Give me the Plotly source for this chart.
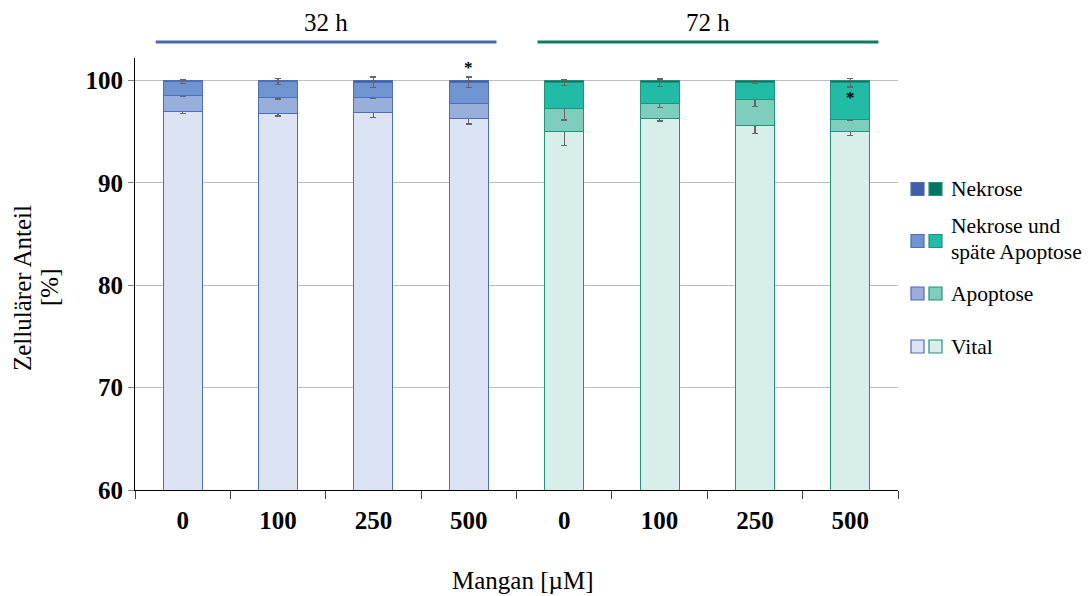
import plotly.graph_objects as go

# ---- data ----
concentrations = ["0", "100", "250", "500", "0", "100", "250", "500"]
groups = ["32 h", "72 h"]
vital = [97.0, 96.8, 96.85, 96.3, 95.0, 96.3, 95.6, 95.0]
apoptose = [1.55, 1.5, 1.45, 1.5, 2.25, 1.45, 2.55, 1.2]
spaet = [1.35, 1.6, 1.55, 2.05, 2.55, 2.05, 1.65, 3.6]
nekrose = [0.1, 0.1, 0.15, 0.15, 0.2, 0.2, 0.2, 0.2]
err_vital = [0.25, 0.26, 0.45, 0.54, 1.38, 0.25, 0.8, 0.4]
err_apoptose = [0.05, 0.1, 0.07, 0.07, 1.1, 0.4, 0.7, 0.05]
err_spaet = [0.2, 0.28, 0.5, 0.5, 0.3, 0.35, 0.1, 0.42]
err_nekrose = [0, 0, 0, 0, 0, 0, 0, 0]
significant = [False, False, False, True, False, False, False, True]
star_y = [None, None, None, 101.3, None, None, None, 98.3]
legend_lines = [["Nekrose"], ["Nekrose und", "späte Apoptose"], ["Apoptose"], ["Vital"]]
y_title_lines = ["Zellulärer Anteil", "[%]"]
x_title = "Mangan [µM]"

# ---- styles ----
blue = {"Vital": "#dce3f3", "Apoptose": "#98afdb", "spaet": "#7094cf", "Nekrose": "#3f5fa8"}
green = {"Vital": "#d7eee9", "Apoptose": "#7fcdbd", "spaet": "#22bba5", "Nekrose": "#007560"}
edge_blue = "#4e6dbb"
edge_green = "#23927d"
FONT = "Liberation Serif, Times New Roman, serif"

# page pixel geometry (body has 8px margin)
PL, PR, PT, PB = 135, 898, 58, 490
PW, PH = PR - PL, PB - PT

def px_x(p):
    return (p - PL) / PW

def px_y(p):
    return (PB - p) / PH

x = list(range(len(concentrations)))
ngrp = len(concentrations) // 2

def cols(key):
    return [blue[key]] * ngrp + [green[key]] * ngrp

edges = [edge_blue] * ngrp + [edge_green] * ngrp

fig = go.Figure()
stack = [
    (vital, err_vital, "Vital"),
    (apoptose, err_apoptose, "Apoptose"),
    (spaet, err_spaet, "spaet"),
    (nekrose, err_nekrose, "Nekrose"),
]
for vals, errs, key in stack:
    fig.add_trace(go.Bar(
        x=x, y=vals, width=0.41,
        marker=dict(color=cols(key), line=dict(color=edges, width=1)),
        error_y=dict(type="data", array=errs, visible=True, color="#666666",
                     thickness=1.3, width=3),
        showlegend=False, hoverinfo="skip",
    ))

fig.update_layout(
    barmode="stack",
    width=1084, height=588,
    margin=dict(l=PL - 8, r=1092 - PR, t=PT - 8, b=596 - PB),
    plot_bgcolor="white", paper_bgcolor="white",
    font=dict(family=FONT, color="black"),
    showlegend=False,
)
fig.update_yaxes(
    range=[60, 102.2], tickvals=[60, 70, 80, 90, 100],
    tickfont=dict(size=25, family=FONT, color="black", weight="bold"),
    showgrid=True, gridcolor="#bfbfbf", gridwidth=1,
    showline=True, linecolor="black", linewidth=1,
    ticks="outside", ticklen=6, tickcolor="#808080",
    zeroline=False,
)
fig.update_xaxes(
    range=[-0.5, 7.5], tickvals=x, ticktext=concentrations,
    tickfont=dict(size=25, family=FONT, color="black", weight="bold"),
    showline=True, linecolor="black", linewidth=1, showgrid=False,
    ticks="", ticklabelstandoff=8,
    minor=dict(tickvals=[i - 0.5 for i in range(len(x) + 1)], ticks="outside",
               ticklen=8, tickcolor="#404040", showgrid=False),
)

# axis titles
fig.add_annotation(text=x_title, xref="paper", yref="paper", x=px_x(522), y=px_y(580),
                   xanchor="center", yanchor="middle", showarrow=False,
                   font=dict(size=25, family=FONT))
for line, xp in zip(y_title_lines, [22, 49]):
    fig.add_annotation(text=line, xref="paper", yref="paper",
                       x=px_x(xp), y=px_y(288), xanchor="center", yanchor="middle",
                       textangle=-90, showarrow=False, font=dict(size=25, family=FONT))

# significance stars
for i, (s, yy) in enumerate(zip(significant, star_y)):
    if s:
        fig.add_annotation(text="<b>*</b>", x=i, y=yy, xref="x", yref="y",
                           yanchor="middle", showarrow=False,
                           font=dict(size=17, family=FONT))

# group headers
hdr = [(-0.283, 3.29, groups[0], "#4a67b5"), (3.72, 7.295, groups[1], "#0d7a62")]
for x0, x1, label, c in hdr:
    fig.add_shape(type="line", xref="x", yref="paper", x0=x0, x1=x1,
                  y0=px_y(42), y1=px_y(42), line=dict(color=c, width=3))
    fig.add_annotation(text=label, xref="x", yref="paper", x=(x0 + x1) / 2, y=px_y(22),
                       xanchor="center", yanchor="middle",
                       showarrow=False, font=dict(size=25, family=FONT))

# custom legend with paired swatches
leg_y_px = [189, 241, 293.5, 346.5]
leg_keys = ["Nekrose", "spaet", "Apoptose", "Vital"]
for ypx, key, lines in zip(leg_y_px, leg_keys, legend_lines):
    for x0, colr, ec in [(911, blue[key], edge_blue), (929, green[key], edge_green)]:
        fig.add_shape(type="rect", xref="paper", yref="paper",
                      x0=px_x(x0), x1=px_x(x0 + 13),
                      y0=px_y(ypx + 6.5), y1=px_y(ypx - 6.5),
                      fillcolor=colr, line=dict(color=ec, width=1.2))
    n = len(lines)
    for k, t in enumerate(lines):
        ty = ypx + (k - (n - 1) / 2) * 26 - (2 if n > 1 else 0)
        fig.add_annotation(text=t, xref="paper", yref="paper",
                           x=px_x(949), y=px_y(ty),
                           xanchor="left", yanchor="middle", align="left", showarrow=False,
                           font=dict(size=21.5, family=FONT))

fig.write_html("out.html")
